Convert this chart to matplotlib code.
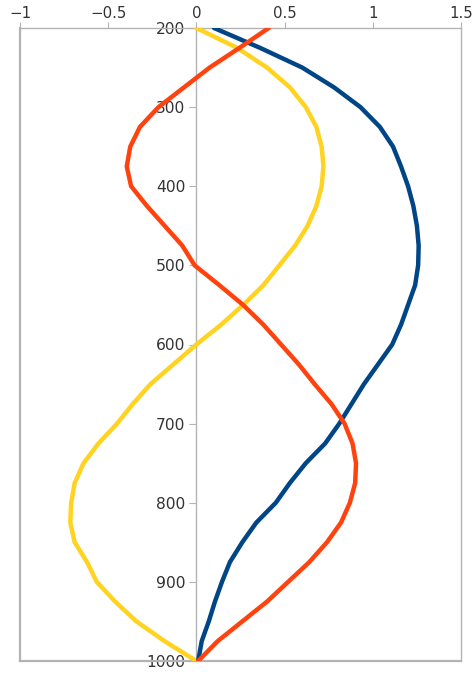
import matplotlib
matplotlib.use("Agg")
import matplotlib.pyplot as plt

# depth axis (inverted)
depth = [200, 225, 250, 275, 300, 325, 350, 375, 400, 425, 450, 475, 500,
         525, 550, 575, 600, 625, 650, 675, 700, 725, 750, 775, 800, 825,
         850, 875, 900, 925, 950, 975, 1000]

blue = [0.10, 0.36, 0.60, 0.78, 0.93, 1.04, 1.115, 1.16, 1.20, 1.23, 1.25,
        1.26, 1.257, 1.24, 1.20, 1.16, 1.11, 1.03, 0.95, 0.88, 0.81, 0.73,
        0.62, 0.53, 0.45, 0.34, 0.26, 0.19, 0.145, 0.105, 0.07, 0.03, 0.01]

red = [0.41, 0.245, 0.075, -0.07, -0.215, -0.32, -0.375, -0.395, -0.37, -0.28,
       -0.18, -0.08, -0.01, 0.13, 0.265, 0.38, 0.48, 0.58, 0.67, 0.765, 0.84,
       0.885, 0.905, 0.90, 0.87, 0.82, 0.74, 0.64, 0.52, 0.40, 0.26, 0.12, 0.01]

yellow = [0.0, 0.23, 0.40, 0.53, 0.62, 0.68, 0.71, 0.72, 0.71, 0.68, 0.63,
          0.56, 0.47, 0.38, 0.265, 0.14, 0.0, -0.13, -0.26, -0.36, -0.45,
          -0.555, -0.64, -0.69, -0.71, -0.715, -0.69, -0.62, -0.565, -0.46,
          -0.34, -0.18, 0.0]

x_ticks = [-1, -0.5, 0, 0.5, 1, 1.5]
x_tick_labels = ["\u22121", "\u22120.5", "0", "0.5", "1", "1.5"]
y_ticks = [200, 300, 400, 500, 600, 700, 800, 900, 1000]

GRID = "#b3b3b3"
TEXT = "#333333"

fig = plt.figure(figsize=(4.72, 6.75), dpi=100)
ax = fig.add_axes([20 / 472, 14 / 675, 441 / 472, 633 / 675])

style = dict(lw=3.2, solid_capstyle="round", solid_joinstyle="round")
ax.plot(yellow, depth, color="#ffd320", zorder=3, **style)
ax.plot(blue, depth, color="#004586", zorder=4, **style)
ax.plot(red, depth, color="#ff420e", zorder=5, **style)

ax.set_xlim(-1, 1.5)
ax.set_ylim(1000, 200)

# box around the plot area
for side in ["top", "right", "bottom"]:
    ax.spines[side].set_color(GRID)
    ax.spines[side].set_linewidth(1.0)
ax.axvline(-1, color=GRID, lw=1.6, clip_on=False, zorder=1)
ax.spines["bottom"].set_linewidth(1.6)

# y axis sits at x = 0
ax.spines["left"].set_position(("data", 0))
ax.spines["left"].set_color(GRID)
ax.spines["left"].set_linewidth(1.0)

ax.xaxis.tick_top()
ax.set_xticks(x_ticks)
ax.set_xticklabels(x_tick_labels)
ax.set_yticks(y_ticks)
ax.tick_params(axis="x", colors=GRID, labelcolor=TEXT, labelsize=10.8,
               length=4, pad=1, bottom=False)
ax.tick_params(axis="y", colors=GRID, labelcolor=TEXT, labelsize=11.2,
               length=5, pad=3, right=False)

fig.savefig("out.png", dpi=100)
